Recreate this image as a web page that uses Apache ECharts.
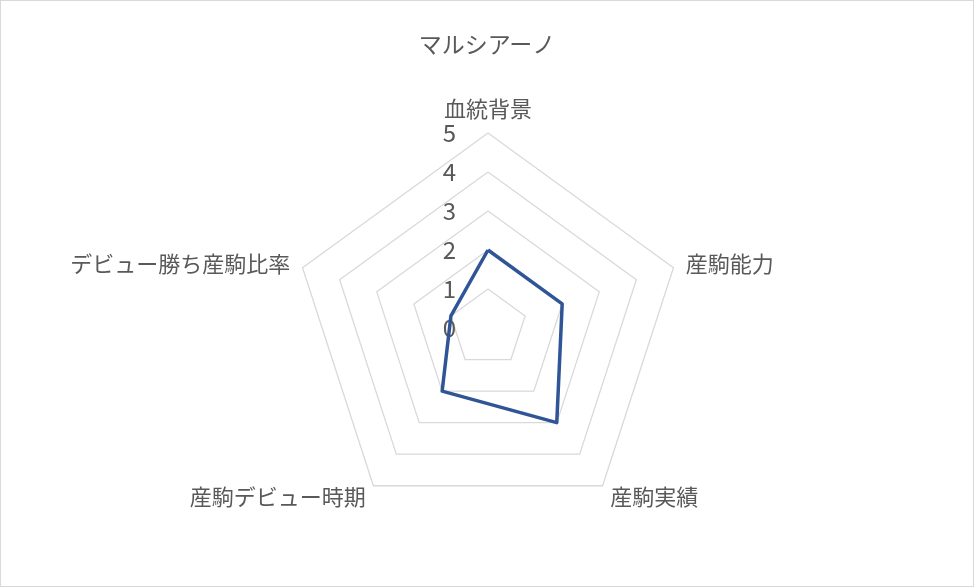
<!DOCTYPE html>
<html>
<head>
<meta charset="utf-8">
<script src="https://cdn.jsdelivr.net/npm/echarts@6/dist/echarts.min.js"></script>
<style>
  html, body { margin: 0; padding: 0; background: #fff; }
  #chart { width: 972px; height: 585px; border: 1px solid #d9d9d9; }
</style>
</head>
<body>
<div id="chart"></div>
<script>
// indicators clockwise from the top, as in the picture
const categories = ['血統背景', '産駒能力', '産駒実績', '産駒デビュー時期', 'デビュー勝ち産駒比率'];
const values = [2, 2, 3, 2, 1];
const maxValue = 5;
const tickStep = 1;
const titleText = 'マルシアーノ';

const textColor = '#595959';
const font = '"Noto Sans CJK JP", sans-serif';

const cx = 487;
const cy = 327;
const r = 195;

// echarts lays indicators out counter-clockwise, so keep the first and reverse the rest
const order = [0].concat(categories.map((c, i) => i).slice(1).reverse());

const chart = echarts.init(document.getElementById('chart'));
chart.setOption({
  animation: false,
  title: {
    text: titleText,
    left: 'center',
    top: 27,
    textStyle: { color: textColor, fontSize: 23, fontWeight: 'normal', fontFamily: font },
  },
  // value labels only along the top spoke, like the original
  grid: { left: cx, top: cy - r, width: 1, height: r },
  xAxis: { type: 'value', show: false },
  yAxis: {
    type: 'value',
    min: 0,
    max: maxValue,
    interval: tickStep,
    axisLine: { show: false },
    axisTick: { show: false },
    splitLine: { show: false },
    axisLabel: { color: textColor, fontSize: 24, fontFamily: font, margin: 32 },
  },
  radar: {
    center: [cx, cy],
    radius: r,
    splitNumber: maxValue / tickStep,
    nameGap: 13,
    indicator: order.map((i) => ({ name: categories[i], min: 0, max: maxValue })),
    axisName: { color: textColor, fontSize: 22, fontFamily: font },
    axisLine: { show: false },
    axisTick: { show: false },
    axisLabel: { show: false },
    splitLine: { lineStyle: { color: '#d9d9d9', width: 1.3 } },
    splitArea: { show: false },
  },
  series: [{
    type: 'radar',
    symbol: 'none',
    lineStyle: { color: '#2f5597', width: 3.5 },
    data: [{ value: order.map((i) => values[i]), name: titleText }],
  }],
});
</script>
</body>
</html>
